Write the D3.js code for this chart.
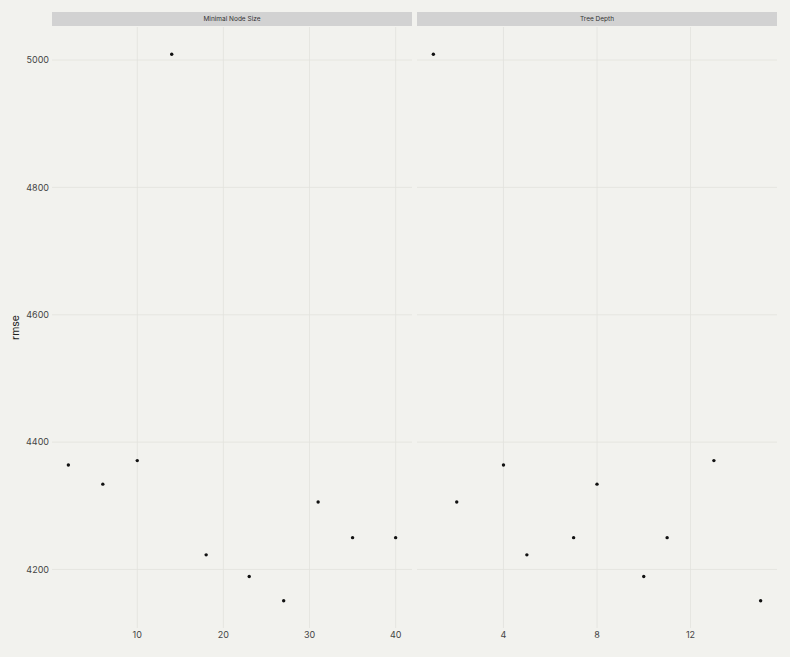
<!DOCTYPE html>
<html>
<head>
<meta charset="utf-8">
<script src="https://cdn.jsdelivr.net/npm/d3@7"></script>
<style>
    body { margin: 0; background: #f2f2ee; }
    svg { display: block; font-family: Inter, "DejaVu Sans", sans-serif; }
</style>
</head>
<body>
<svg id="chart" width="790" height="657"></svg>
<script>
// data

let rmse = [4364, 4334, 4371, 5009, 4223, 4189, 4151, 4306, 4250, 4250];
let nodeSize = [2, 6, 10, 14, 18, 23, 27, 31, 35, 40];
let treeDepth = [4, 8, 13, 1, 5, 10, 15, 2, 7, 11];
let facetNames = ['Minimal Node Size', 'Tree Depth'];
let yTicks = [4200, 4400, 4600, 4800, 5000];
let xTicks = [[10, 20, 30, 40], [4, 8, 12]];

// layout

let width = 790, height = 657;
let panelTop = 27, panelBottom = 628;
let panels = [
    { x0: 52, x1: 412, xs: nodeSize },
    { x0: 417, x1: 777, xs: treeDepth },
];

let svg = d3.select('#chart');

svg.append('rect')
    .attr('width', width)
    .attr('height', height)
    .attr('fill', '#f2f2ee');

// ggplot style 5% expansion
function expand(ext) {
    let pad = (ext[1] - ext[0]) * 0.05;
    return [ext[0] - pad, ext[1] + pad];
}

let y = d3.scaleLinear()
    .domain(expand(d3.extent(rmse)))
    .range([panelBottom, panelTop]);

panels.forEach((p, i) => {
    let x = d3.scaleLinear()
        .domain(expand(d3.extent(p.xs)))
        .range([p.x0, p.x1]);

    let g = svg.append('g');

    // strip
    g.append('rect')
        .attr('x', p.x0)
        .attr('y', 12)
        .attr('width', p.x1 - p.x0)
        .attr('height', 14)
        .attr('fill', '#d2d2d2');
    g.append('text')
        .attr('x', (p.x0 + p.x1) / 2)
        .attr('y', 19)
        .attr('dy', '0.35em')
        .attr('text-anchor', 'middle')
        .style('font-size', '6.5px')
        .attr('fill', '#333')
        .text(facetNames[i]);

    // grid
    g.selectAll('.hgrid')
        .data(yTicks)
        .enter()
        .append('line')
        .attr('x1', p.x0)
        .attr('x2', p.x1)
        .attr('y1', d => y(d))
        .attr('y2', d => y(d))
        .attr('stroke', '#e2e2dd')
        .attr('stroke-width', 0.8);
    g.selectAll('.vgrid')
        .data(xTicks[i])
        .enter()
        .append('line')
        .attr('x1', d => x(d))
        .attr('x2', d => x(d))
        .attr('y1', panelTop)
        .attr('y2', panelBottom)
        .attr('stroke', '#e2e2dd')
        .attr('stroke-width', 0.8);

    // x axis labels
    g.selectAll('.xlab')
        .data(xTicks[i])
        .enter()
        .append('text')
        .attr('x', d => x(d))
        .attr('y', 632)
        .attr('dy', '0.71em')
        .attr('text-anchor', 'middle')
        .style('font-size', '9px')
        .attr('fill', '#444')
        .text(d => d);

    // points
    g.selectAll('.pt')
        .data(rmse)
        .enter()
        .append('circle')
        .attr('cx', (d, j) => x(p.xs[j]))
        .attr('cy', d => y(d))
        .attr('r', 1.7)
        .attr('fill', '#111');
});

// y axis labels
svg.selectAll('.ylab')
    .data(yTicks)
    .enter()
    .append('text')
    .attr('x', 49)
    .attr('y', d => y(d))
    .attr('dy', '0.35em')
    .attr('text-anchor', 'end')
    .style('font-size', '9px')
    .attr('fill', '#444')
    .text(d => d);

svg.append('text')
    .attr('transform', `translate(19,${(panelTop + panelBottom) / 2}) rotate(-90)`)
    .attr('text-anchor', 'middle')
    .style('font-size', '10.5px')
    .attr('fill', '#222')
    .text('rmse');
</script>
</body>
</html>
